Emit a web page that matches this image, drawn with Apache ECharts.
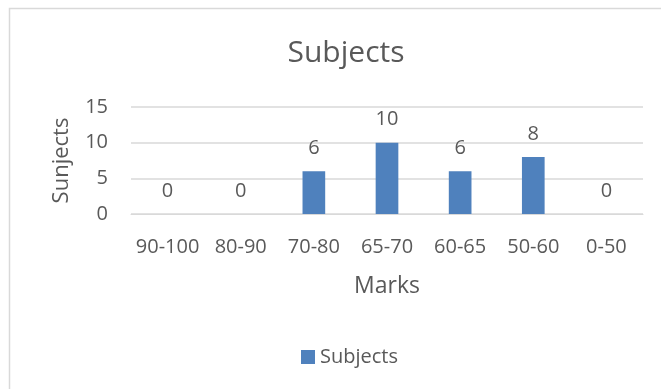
<!DOCTYPE html>
<html>
<head>
<meta charset="utf-8">
<script src="https://cdn.jsdelivr.net/npm/echarts@6/dist/echarts.min.js"></script>
<style>
  html, body { margin: 0; padding: 0; background: #fff; }
  #chart { width: 661px; height: 389px; }
</style>
</head>
<body>
<div id="chart"></div>
<script>
// Mark ranges and how many subjects fall in each
const categories = ['90-100', '80-90', '70-80', '65-70', '60-65', '50-60', '0-50'];
const subjectCounts = [0, 0, 6, 10, 6, 8, 0];
const yTicks = { min: 0, max: 15, interval: 5 };

const FONT = '"Open Sans", "Noto Sans", sans-serif';
const TEXT = '#595959';
const LINE = '#d9d9d9';

const chart = echarts.init(document.getElementById('chart'), null, { renderer: 'canvas' });

chart.setOption({
  backgroundColor: '#ffffff',
  animation: false,
  textStyle: { fontFamily: FONT, color: TEXT },
  graphic: [{
    type: 'rect',
    shape: { x: 9.5, y: 8.5, width: 700, height: 500 },
    style: { fill: 'none', stroke: LINE, lineWidth: 1.5 },
    silent: true
  }],
  title: {
    text: 'Subjects',
    left: 341,
    top: 33,
    textAlign: 'center',
    textStyle: { fontFamily: FONT, fontSize: 30, fontWeight: 'normal', color: TEXT }
  },
  legend: {
    data: ['Subjects'],
    left: 296,
    top: 342,
    icon: 'rect',
    itemWidth: 14,
    itemHeight: 14,
    textStyle: { fontFamily: FONT, fontSize: 20, color: TEXT }
  },
  grid: { left: 131, right: 18, top: 107, bottom: 175, containLabel: false },
  xAxis: {
    type: 'category',
    data: categories,
    name: 'Marks',
    nameLocation: 'middle',
    nameGap: 61,
    nameTextStyle: { fontFamily: FONT, fontSize: 23, color: TEXT },
    axisLine: { show: true, lineStyle: { color: LINE, width: 1 } },
    axisTick: { show: false },
    axisLabel: { margin: 23, fontFamily: FONT, fontSize: 20, color: TEXT, interval: 0 }
  },
  yAxis: {
    type: 'value',
    min: yTicks.min,
    max: yTicks.max,
    interval: yTicks.interval,
    name: 'Sunjects',
    nameLocation: 'middle',
    nameGap: 58,
    nameRotate: 90,
    nameTextStyle: { fontFamily: FONT, fontSize: 22, color: TEXT },
    axisLine: { show: false },
    axisTick: { show: false },
    axisLabel: { margin: 23, fontFamily: FONT, fontSize: 20, color: TEXT },
    splitLine: { show: true, lineStyle: { color: LINE, width: 1.5 } }
  },
  series: [{
    name: 'Subjects',
    type: 'bar',
    data: subjectCounts,
    barWidth: '31%',
    itemStyle: { color: '#4f81bd' },
    label: {
      show: true,
      position: 'top',
      distance: 13,
      fontFamily: FONT,
      fontSize: 20,
      color: TEXT
    }
  }]
});
</script>
</body>
</html>
